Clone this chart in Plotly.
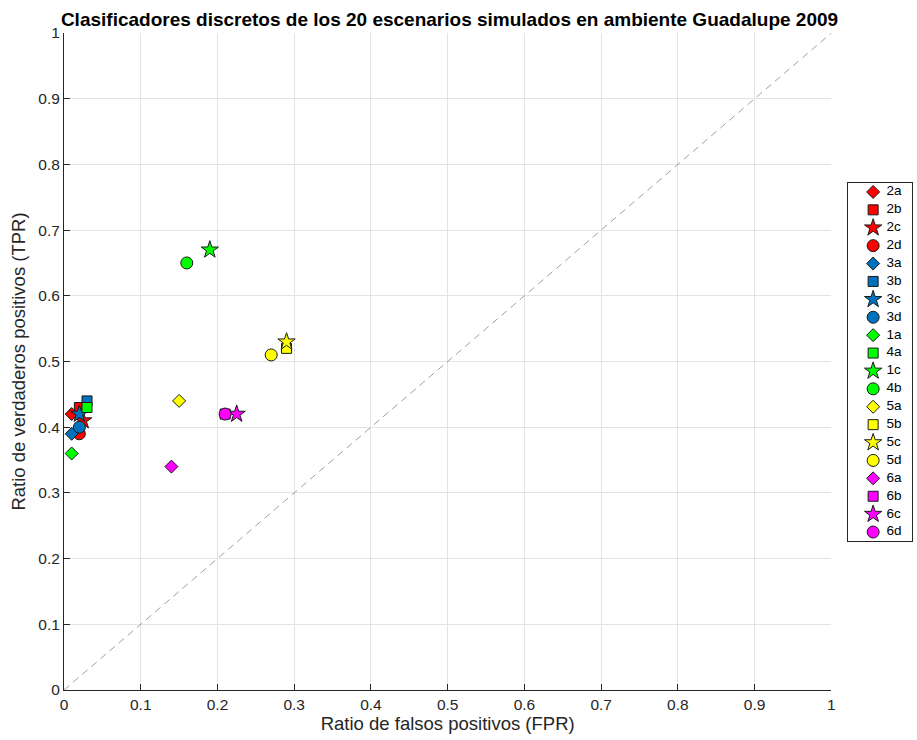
import plotly.graph_objects as go

# Scenario names, in drawing/legend order
scenarios = ["2a", "2b", "2c", "2d", "3a", "3b", "3c", "3d", "1a", "4a",
             "1c", "4b", "5a", "5b", "5c", "5d", "6a", "6b", "6c", "6d"]

# False positive rate per scenario
fpr = [0.01, 0.02, 0.025, 0.02, 0.01, 0.03, 0.02, 0.02, 0.01, 0.03,
       0.19, 0.16, 0.15, 0.29, 0.29, 0.27, 0.14, 0.21, 0.225, 0.21]

# True positive rate per scenario
tpr = [0.42, 0.43, 0.41, 0.39, 0.39, 0.44, 0.42, 0.40, 0.36, 0.43,
       0.67, 0.65, 0.44, 0.52, 0.53, 0.51, 0.34, 0.42, 0.42, 0.42]

# Fill colour for each scenario
fill_colors = ["#FF0000", "#FF0000", "#FF0000", "#FF0000",
               "#0072BD", "#0072BD", "#0072BD", "#0072BD",
               "#00FF00", "#00FF00", "#00FF00", "#00FF00",
               "#FFFF00", "#FFFF00", "#FFFF00", "#FFFF00",
               "#FF00FF", "#FF00FF", "#FF00FF", "#FF00FF"]

# Marker shape repeats diamond / square / star / circle
shape_cycle = ["diamond", "square", "star", "circle"]
shape_size = {"diamond": 10, "square": 10, "star": 13, "circle": 12}

tick_vals = [0, 0.1, 0.2, 0.3, 0.4, 0.5, 0.6, 0.7, 0.8, 0.9, 1]
tick_text = ["0", "0.1", "0.2", "0.3", "0.4", "0.5", "0.6", "0.7", "0.8", "0.9", "1"]

FONT = "Liberation Sans, Arial, Helvetica, sans-serif"
AX_COLOR = "#262626"

# Pixel layout of the figure
W, H = 917, 740
M_L, M_R, M_T, M_B = 64, 1, 33, 50
plot_right = 835                    # right edge of the main axes
leg_left, leg_right = 852, 916      # legend box
leg_top, leg_bottom = 183, 541

area_w = W - M_L - M_R
area_h = H - M_T - M_B

symbols = [shape_cycle[i % 4] for i in range(len(scenarios))]
sizes = [shape_size[s] for s in symbols]

fig = go.Figure()

# Chance line
fig.add_trace(go.Scatter(
    x=[0, 1], y=[0, 1], mode="lines",
    line=dict(color="#a0a0a0", width=1, dash="7px,5px"),
    showlegend=False, hoverinfo="skip"))

# One trace per scenario
for i, name in enumerate(scenarios):
    fig.add_trace(go.Scatter(
        x=[fpr[i]], y=[tpr[i]], mode="markers", name=name, showlegend=False,
        marker=dict(symbol=symbols[i], size=sizes[i], color=fill_colors[i],
                    opacity=1, line=dict(color="#1a1a1a", width=1))))

# Legend panel, drawn on its own small axes: one row per scenario
rows = list(range(len(scenarios)))
fig.add_trace(go.Scatter(
    x=[0.39] * len(rows), y=rows, mode="markers", xaxis="x2", yaxis="y2",
    marker=dict(symbol=symbols, size=sizes, color=fill_colors, opacity=1,
                line=dict(color="#1a1a1a", width=1)),
    showlegend=False, hoverinfo="skip"))
fig.add_trace(go.Scatter(
    x=[0.6] * len(rows), y=rows, mode="text", text=scenarios,
    textposition="middle right", xaxis="x2", yaxis="y2",
    textfont=dict(family=FONT, size=13.5, color="#000000"),
    showlegend=False, hoverinfo="skip"))

axis_common = dict(
    range=[0, 1], tickvals=tick_vals, ticktext=tick_text,
    showgrid=True, gridcolor="#e3e3e3", gridwidth=1,
    zeroline=False, showline=True, linecolor=AX_COLOR, linewidth=1,
    ticks="inside", ticklen=6, tickcolor=AX_COLOR,
    tickfont=dict(family=FONT, size=15.5, color=AX_COLOR),
    mirror=False, fixedrange=True)

legend_axis = dict(showgrid=False, zeroline=False, showticklabels=False, ticks="",
                   showline=True, mirror=True, linecolor=AX_COLOR, linewidth=1,
                   fixedrange=True)

fig.update_layout(
    width=W, height=H,
    margin=dict(l=M_L, r=M_R, t=M_T, b=M_B),
    paper_bgcolor="white", plot_bgcolor="white",
    showlegend=False,
    title=dict(text="<b>Clasificadores discretos de los 20 escenarios simulados en ambiente Guadalupe 2009</b>",
               x=(M_L + plot_right) / 2 / W, xanchor="center",
               y=1 - 19 / H, yanchor="middle",
               font=dict(family=FONT, size=19, color="#000000")),
    xaxis=dict(axis_common, domain=[0, (plot_right - M_L) / area_w],
               title=dict(text="Ratio de falsos positivos (FPR)", standoff=3,
                          font=dict(family=FONT, size=18.5, color=AX_COLOR))),
    yaxis=dict(axis_common, domain=[0, 1],
               title=dict(text="Ratio de verdaderos positivos (TPR)", standoff=7,
                          font=dict(family=FONT, size=18.5, color=AX_COLOR))),
    xaxis2=dict(legend_axis, anchor="y2", range=[0, 1],
                domain=[(leg_left - M_L) / area_w, (leg_right - M_L) / area_w]),
    yaxis2=dict(legend_axis, anchor="x2", range=[len(rows) - 0.5, -0.5],
                domain=[(H - M_B - leg_bottom) / area_h, (H - M_B - leg_top) / area_h]),
)

fig.write_html("out.html")
